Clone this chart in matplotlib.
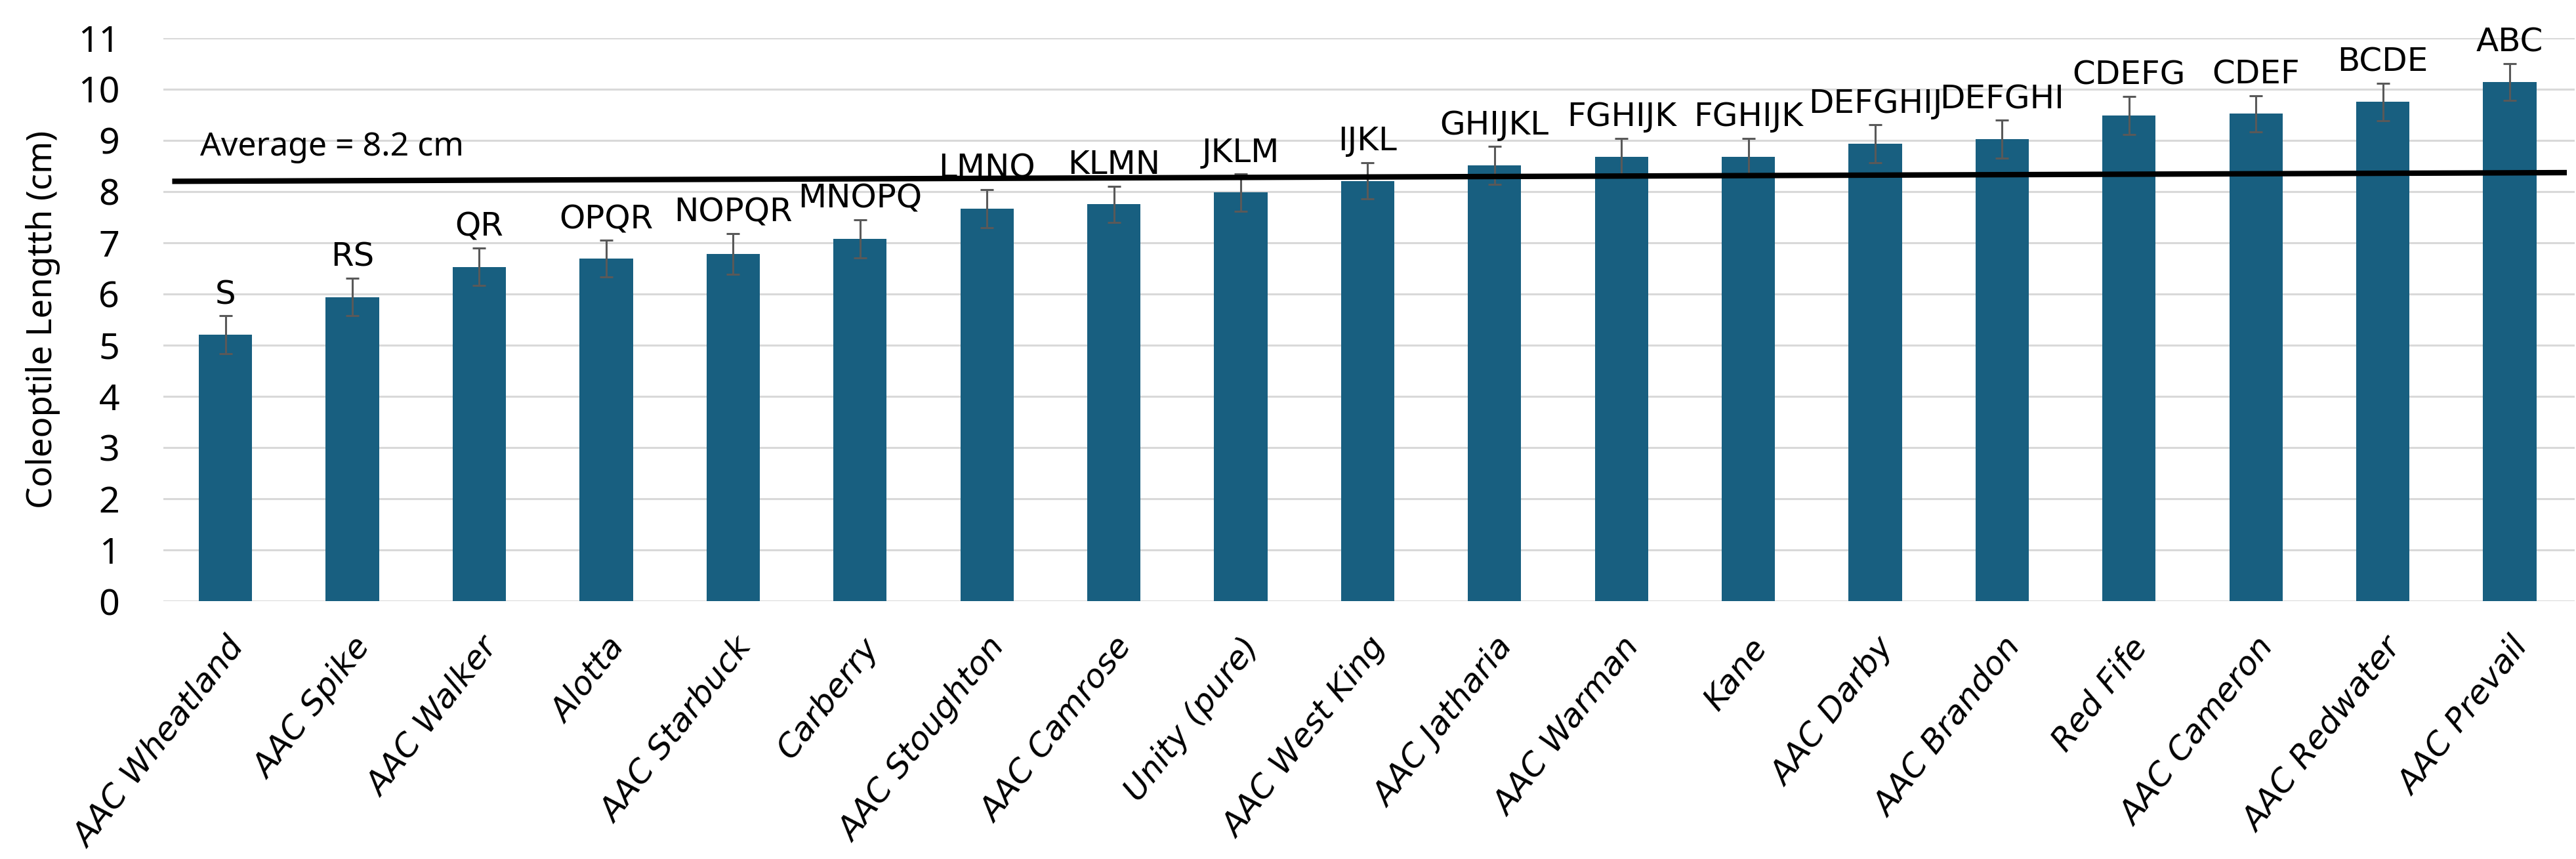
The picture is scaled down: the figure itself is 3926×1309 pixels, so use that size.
import matplotlib
matplotlib.use("Agg")
import matplotlib.pyplot as plt
import numpy as np

varieties = ["AAC Wheatland", "AAC Spike", "AAC Walker", "Alotta", "AAC Starbuck",
             "Carberry", "AAC Stoughton", "AAC Camrose", "Unity (pure)", "AAC West King",
             "AAC Jatharia", "AAC Warman", "Kane", "AAC Darby", "AAC Brandon",
             "Red Fife", "AAC Cameron", "AAC Redwater", "AAC Prevail"]
lengths = [5.20, 5.94, 6.53, 6.69, 6.78, 7.08, 7.67, 7.75, 7.98, 8.21,
           8.51, 8.68, 8.68, 8.93, 9.02, 9.49, 9.52, 9.75, 10.14]
errors = [0.37, 0.37, 0.37, 0.355, 0.40, 0.37, 0.37, 0.355, 0.36, 0.355,
          0.37, 0.36, 0.36, 0.37, 0.37, 0.37, 0.355, 0.37, 0.36]
letters = ["S", "RS", "QR", "OPQR", "NOPQR", "MNOPQ", "LMNO", "KLMN", "JKLM", "IJKL",
           "GHIJKL", "FGHIJK", "FGHIJK", "DEFGHIJ", "DEFGHI", "CDEFG", "CDEF", "BCDE", "ABC"]
avg_line_x = [-0.42, 18.45]
avg_line_y = [8.20, 8.37]
avg_label = "Average = 8.2 cm"
yticks = list(range(0, 12))

fig = plt.figure(figsize=(39.26, 13.09), dpi=100)
ax = fig.add_axes([0.0634, 0.3002, 0.9360, 0.6556])

x = np.arange(len(varieties))
ax.bar(x, lengths, width=0.42, color="#185F80", zorder=2)
ax.errorbar(x, lengths, yerr=errors, fmt="none", ecolor="#595959",
            elinewidth=2.2, capsize=7, capthick=2.2, zorder=3)

for xi, v, e, t in zip(x, lengths, errors, letters):
    ax.annotate(t, (xi, v + e), xytext=(0, 6), textcoords="offset points",
                ha="center", va="bottom", fontsize=36, family="DejaVu Sans", zorder=4)

ax.plot(avg_line_x, avg_line_y, color="black", lw=6, zorder=5, solid_capstyle="butt")
ax.text(-0.2, 8.55, avg_label, fontsize=36, family="Noto Sans", va="bottom", ha="left")

ax.set_xlim(-0.49, 18.51)
ax.set_ylim(0, 11)
ax.set_yticks(yticks)
ax.set_yticklabels([str(t) for t in yticks], fontsize=40, family="Noto Sans")
ax.yaxis.grid(True, color="#d9d9d9", lw=2.2, zorder=0)
ax.set_axisbelow(True)
ax.tick_params(axis="y", length=0, pad=48)
ax.tick_params(axis="x", length=0, pad=34)
ax.set_xticks(x)
ax.set_xticklabels(varieties, rotation=52, ha="right", va="top", rotation_mode="anchor",
                   fontsize=36, family="DejaVu Sans", style="italic")
for s in ax.spines.values():
    s.set_visible(False)
ax.set_ylabel("Coleoptile Lengtth (cm)", fontsize=38, family="Noto Sans")
ax.yaxis.set_label_coords(-0.0427, 0.5)

fig.savefig("out.png", dpi=100)
